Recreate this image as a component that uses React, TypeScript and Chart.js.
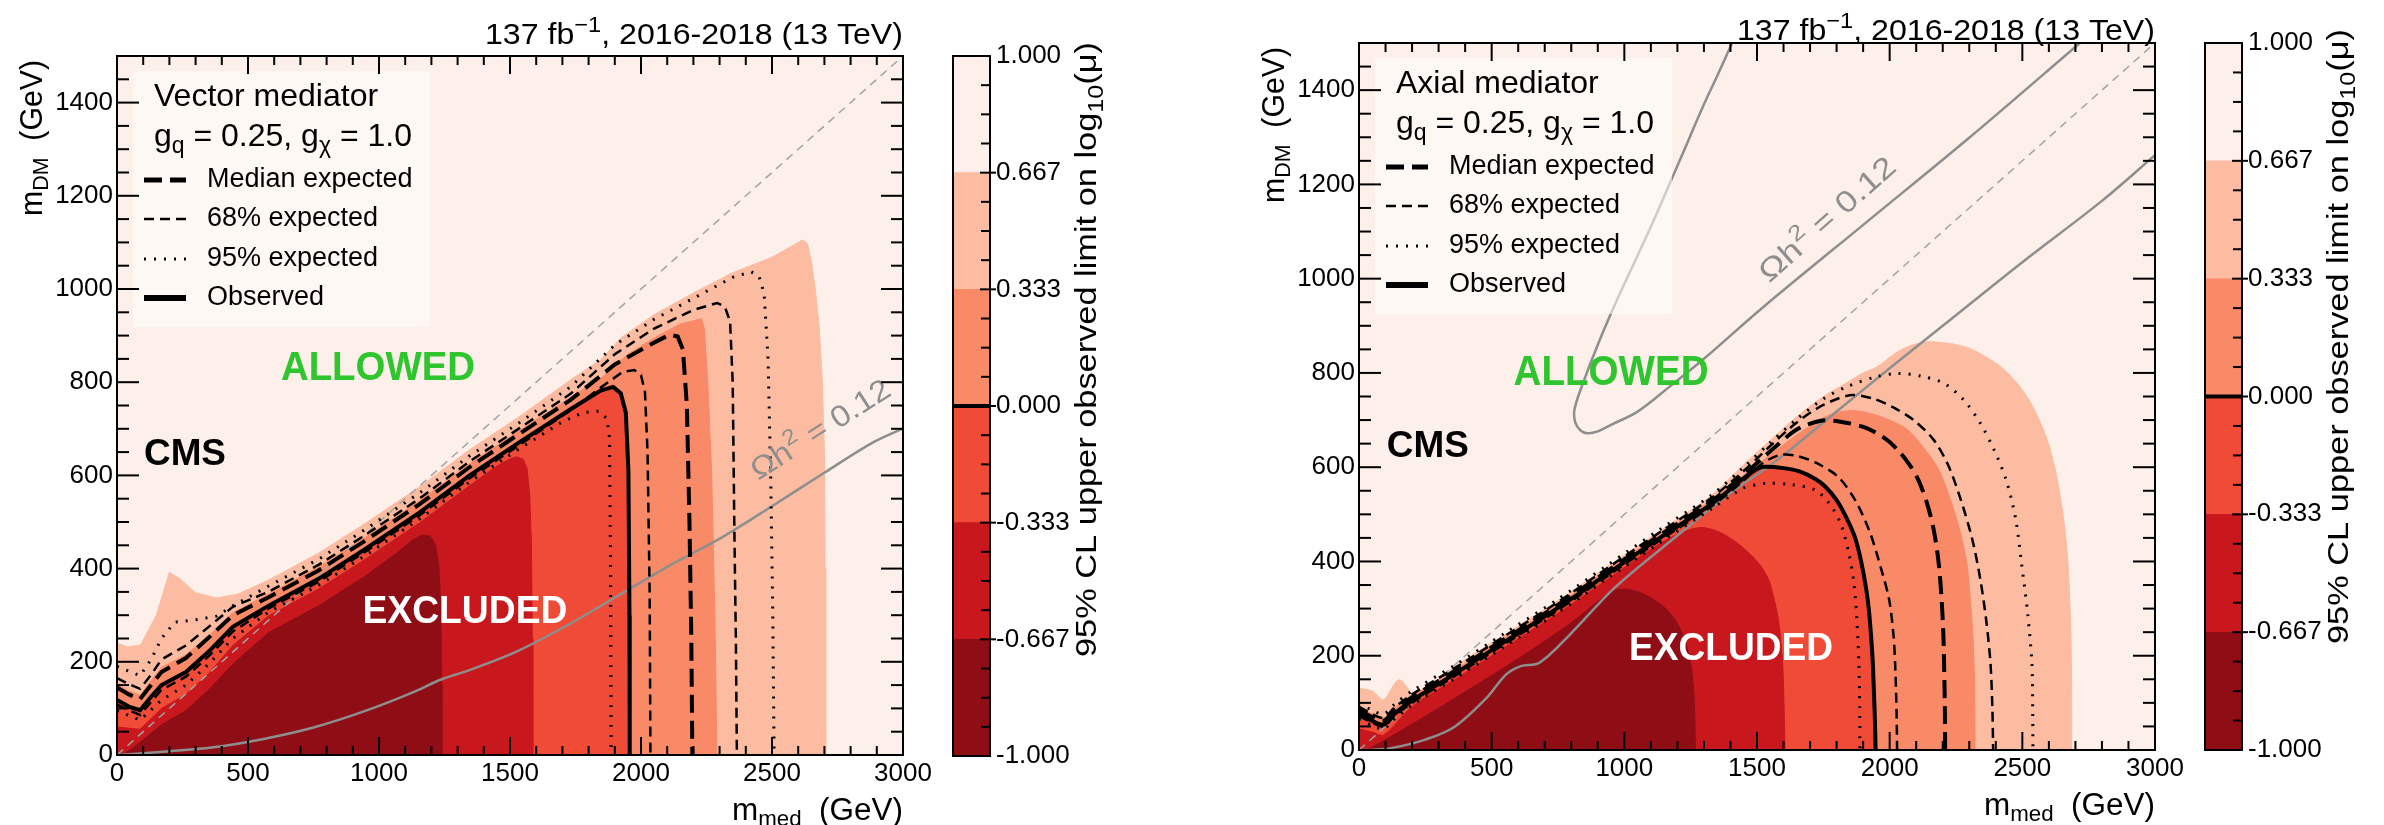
import React, { useEffect, useRef } from 'react';
import { Chart, registerables } from 'chart.js';

Chart.register(...registerables);

type P = [number, number];
type Part = { t: string; s?: 'sub' | 'sup' };

const FONT = '"Liberation Sans", Arial, Helvetica, sans-serif';
const NARROW = '"Liberation Sans Narrow", "Liberation Sans", Arial, sans-serif';
const GREY = '#8e8e8e';

// ---------- axes / colour scale ----------
const X_TICKS = [0, 500, 1000, 1500, 2000, 2500, 3000];
const Y_TICKS = [0, 200, 400, 600, 800, 1000, 1200, 1400];
const LEVELS = [-1, -0.667, -0.333, 0, 0.333, 0.667, 1];
const LEVEL_LABELS = ['-1.000', '-0.667', '-0.333', '0.000', '0.333', '0.667', '1.000'];
const LEVEL_COLORS = ['#8f0e15', '#c9171e', '#ef4b36', '#f98a68', '#fcbca2', '#fdefe9'];
const DIAGONAL: P[] = [[0, 0], [3000, 1500]];

// ---------- Vector mediator (left) ----------
const VEC_FILL_033: P[] = [[0,240],[40,232],[90,236],[150,300],[200,392],[240,378],[300,348],[380,337],[460,345],[577,375],[769,433],[942,495],[1154,575],[1346,655],[1538,727],[1731,805],[1850,850],[1923,895],[2050,945],[2212,995],[2350,1035],[2500,1068],[2600,1100],[2615,1105],[2635,1098],[2650,1060],[2665,1000],[2680,920],[2692,800],[2700,650],[2703,400],[2705,0]];
const VEC_FILL_000: P[] = [[0,150],[45,138],[88,128],[130,160],[170,188],[263,215],[350,255],[442,305],[577,345],[769,403],[942,465],[1154,545],[1346,625],[1538,697],[1731,767],[1850,810],[1950,860],[2050,895],[2150,925],[2231,936],[2242,915],[2255,800],[2270,600],[2282,300],[2290,0]];
const VEC_OBS: P[] = [[0,118],[45,104],[88,96],[130,125],[170,150],[263,178],[350,222],[442,275],[577,320],[769,378],[942,440],[1154,520],[1346,600],[1538,672],[1731,742],[1846,782],[1894,790],[1923,776],[1942,735],[1952,610],[1956,300],[1957,0]];
const VEC_FILL_M033: P[] = [[0,60],[88,55],[170,100],[263,130],[350,175],[442,235],[577,298],[769,356],[942,418],[1154,498],[1346,578],[1450,620],[1500,635],[1525,640],[1550,635],[1565,615],[1575,560],[1582,450],[1585,250],[1587,0]];
const VEC_FILL_M067: P[] = [[20,0],[60,15],[170,65],[263,95],[350,140],[442,195],[577,262],[769,320],[942,382],[1060,430],[1130,462],[1165,472],[1195,470],[1215,452],[1228,410],[1236,320],[1239,150],[1240,0]];
const VEC_EXP_MED: P[] = [[0,145],[45,130],[88,120],[130,150],[170,178],[263,208],[350,252],[442,300],[577,338],[769,396],[942,458],[1154,538],[1346,618],[1538,690],[1731,762],[1900,838],[2050,885],[2110,902],[2140,898],[2160,870],[2175,750],[2185,500],[2192,250],[2196,0]];
const VEC_EXP_68_DN: P[] = [[0,108],[45,96],[88,86],[130,114],[170,140],[263,168],[350,212],[442,265],[577,314],[769,372],[942,434],[1154,514],[1346,594],[1538,666],[1731,740],[1850,790],[1930,822],[1975,826],[2000,815],[2015,780],[2025,650],[2033,350],[2036,0]];
const VEC_EXP_68_UP: P[] = [[0,165],[45,152],[88,142],[130,172],[170,205],[263,235],[350,275],[442,318],[577,350],[769,408],[942,470],[1154,550],[1346,630],[1538,702],[1731,775],[1900,860],[2050,915],[2200,955],[2290,970],[2320,962],[2340,930],[2350,800],[2356,500],[2362,250],[2366,0]];
const VEC_EXP_95_DN: P[] = [[0,95],[88,75],[170,118],[263,150],[350,195],[442,250],[577,306],[769,364],[942,426],[1154,506],[1346,586],[1538,658],[1700,715],[1780,735],[1840,738],[1870,722],[1880,680],[1884,400],[1886,0]];
const VEC_EXP_95_UP: P[] = [[0,190],[45,180],[88,170],[130,205],[170,250],[220,285],[300,290],[380,298],[442,320],[577,362],[769,420],[942,482],[1154,562],[1346,642],[1538,714],[1731,790],[1900,880],[2050,935],[2200,980],[2350,1025],[2420,1037],[2450,1028],[2470,990],[2485,850],[2495,600],[2503,300],[2508,0]];
const VEC_RELIC: P[] = [[0,0],[88,3],[200,8],[360,16],[555,34],[750,59],[945,94],[1140,137],[1237,162],[1334,180],[1529,223],[1724,280],[1919,344],[2114,408],[2309,467],[2503,535],[2698,605],[2893,673],[3000,701]];

// ---------- Axial mediator (right) ----------
const AX_FILL_033: P[] = [[0,131],[50,125],[93,107],[151,149],[219,114],[356,175],[550,245],[745,315],[939,390],[1134,465],[1329,540],[1446,603],[1550,657],[1650,707],[1750,750],[1835,778],[1900,800],[1950,812],[2030,845],[2090,860],[2147,866],[2230,862],[2302,852],[2360,835],[2419,813],[2470,785],[2517,750],[2560,705],[2594,658],[2622,600],[2643,538],[2660,470],[2672,396],[2680,300],[2684,219],[2686,100],[2686,0]];
const AX_FILL_000: P[] = [[0,92],[50,76],[93,68],[130,88],[200,115],[356,168],[550,238],[745,308],[939,383],[1134,458],[1329,530],[1446,582],[1523,615],[1600,648],[1679,680],[1777,712],[1850,720],[1913,716],[2000,700],[2069,679],[2130,640],[2186,594],[2230,530],[2264,467],[2290,400],[2303,326],[2313,250],[2318,184],[2321,90],[2322,0]];
const AX_OBS: P[] = [[0,78],[50,62],[93,54],[130,75],[200,105],[356,160],[550,230],[745,300],[939,375],[1134,450],[1329,522],[1446,575],[1500,596],[1528,601],[1600,598],[1660,591],[1720,575],[1757,559],[1800,530],[1835,495],[1870,450],[1894,396],[1912,340],[1923,290],[1935,200],[1939,149],[1944,70],[1947,0]];
const AX_FILL_M033: P[] = [[0,45],[50,38],[93,32],[200,92],[356,148],[550,218],[745,288],[939,363],[1134,438],[1220,462],[1290,472],[1360,462],[1426,439],[1475,415],[1515,390],[1545,360],[1560,330],[1578,285],[1587,248],[1597,180],[1601,114],[1604,50],[1605,0]];
const AX_FILL_M067: P[] = [[30,0],[100,22],[200,55],[362,110],[603,195],[800,270],[900,315],[965,340],[1050,336],[1131,312],[1190,278],[1228,233],[1250,185],[1262,120],[1266,60],[1268,0]];
const AX_EXP_MED: P[] = [[0,85],[50,70],[93,62],[130,82],[200,112],[356,166],[550,236],[745,306],[939,381],[1134,456],[1329,528],[1446,582],[1563,640],[1650,680],[1745,699],[1830,695],[1913,683],[1980,662],[2030,637],[2075,605],[2108,573],[2140,525],[2166,467],[2184,400],[2195,326],[2202,250],[2205,184],[2208,90],[2209,0]];
const AX_EXP_68_DN: P[] = [[0,72],[50,58],[93,50],[130,70],[200,100],[356,155],[550,225],[745,295],[939,370],[1134,445],[1329,517],[1446,570],[1520,608],[1587,626],[1650,624],[1720,610],[1805,580],[1870,530],[1926,461],[1970,380],[1998,319],[2015,240],[2021,177],[2026,80],[2028,0]];
const AX_EXP_68_UP: P[] = [[0,92],[50,76],[93,68],[130,88],[200,118],[356,172],[550,242],[745,312],[939,387],[1134,462],[1329,535],[1446,590],[1550,645],[1650,695],[1750,732],[1855,753],[1940,745],[2010,728],[2090,700],[2166,658],[2220,605],[2264,538],[2310,450],[2342,361],[2365,270],[2380,184],[2387,90],[2390,0]];
const AX_EXP_95_DN: P[] = [[0,65],[50,52],[93,45],[130,64],[200,95],[356,150],[550,220],[745,290],[939,365],[1134,440],[1329,512],[1446,555],[1500,563],[1543,566],[1630,563],[1718,552],[1770,525],[1815,481],[1845,420],[1864,361],[1876,280],[1884,184],[1887,90],[1888,0]];
const AX_EXP_95_UP: P[] = [[0,100],[50,84],[93,76],[130,95],[200,125],[356,178],[550,248],[745,318],[939,393],[1134,468],[1329,541],[1446,598],[1550,652],[1650,702],[1750,745],[1835,770],[1950,792],[2030,799],[2120,793],[2205,778],[2280,742],[2342,693],[2395,635],[2439,573],[2475,490],[2497,396],[2520,290],[2536,184],[2539,90],[2540,0]];
const AX_RELIC_LOW: P[] = [[40,0],[121,4],[250,22],[362,50],[480,110],[554,160],[610,178],[680,185],[795,245],[965,345],[1200,455],[1400,545],[1564,610],[1800,718],[2000,810],[2200,900],[2500,1035],[2800,1165],[3000,1262]];
const AX_RELIC_U: P[] = [[1406,1500],[1350,1430],[1300,1370],[1212,1255],[1100,1110],[979,963],[900,860],[840,772],[812,722],[815,695],[835,678],[862,672],[900,676],[950,690],[1050,718],[1173,772],[1300,830],[1524,940],[1913,1120],[2302,1300],[2717,1500]];

interface PanelData {
  fill033: P[]; fill000: P[]; obs: P[]; fillM033: P[]; fillM067: P[];
  med: P[]; dn68: P[]; up68: P[]; dn95: P[]; up95: P[]; relic: P[][];
}

interface PanelSpec {
  data: PanelData;
  smooth: number;
  left: number; width: number; padTop: number; xAxisH: number;
  header: string; titleY: number;
  allowed: [number, number, number, number];
  excluded: [number, number, number, number];
  cms: [number, number];
  relicLabel: [number, number, number, number];
}

const VEC_SPEC: PanelSpec = {
  data: { fill033: VEC_FILL_033, fill000: VEC_FILL_000, obs: VEC_OBS, fillM033: VEC_FILL_M033, fillM067: VEC_FILL_M067,
    med: VEC_EXP_MED, dn68: VEC_EXP_68_DN, up68: VEC_EXP_68_UP, dn95: VEC_EXP_95_DN, up95: VEC_EXP_95_UP, relic: [VEC_RELIC] },
  smooth: 0,
  left: 0, width: 945, padTop: 56, xAxisH: 70,
  header: 'Vector mediator', titleY: 36,
  allowed: [996, 829, 194, 40], excluded: [1328, 306, 205, 38], cms: [103, 643],
  relicLabel: [2687, 696, -32.7, 160],
};

const AX_SPEC: PanelSpec = {
  data: { fill033: AX_FILL_033, fill000: AX_FILL_000, obs: AX_OBS, fillM033: AX_FILL_M033, fillM067: AX_FILL_M067,
    med: AX_EXP_MED, dn68: AX_EXP_68_DN, up68: AX_EXP_68_UP, dn95: AX_EXP_95_DN, up95: AX_EXP_95_UP, relic: [AX_RELIC_LOW, AX_RELIC_U] },
  smooth: 0.3,
  left: 1242, width: 955, padTop: 43, xAxisH: 75,
  header: 'Axial mediator', titleY: 32,
  allowed: [950, 800, 195, 42], excluded: [1402, 214, 204, 39], cms: [105, 643],
  relicLabel: [1768, 1124, -41.5, 172],
};

// ---------- helpers ----------
function richDraw(ctx: CanvasRenderingContext2D, parts: Part[], x: number, y: number, size: number,
  align: 'left' | 'right' | 'center', color: string,
  opts: { width?: number; weight?: string; family?: string; rot?: number } = {}) {
  const fam = opts.family || FONT;
  const wt = opts.weight || 'normal';
  const fontOf = (p: Part) => `${wt} ${p.s ? Math.round(size * 0.72) : size}px ${fam}`;
  ctx.save();
  let w = 0;
  for (const p of parts) { ctx.font = fontOf(p); w += ctx.measureText(p.t).width; }
  const sx = opts.width ? opts.width / w : 1;
  ctx.translate(x, y);
  if (opts.rot) ctx.rotate(opts.rot);
  ctx.scale(sx, 1);
  let cx = align === 'left' ? 0 : align === 'right' ? -w : -w / 2;
  ctx.fillStyle = color;
  ctx.textAlign = 'left';
  ctx.textBaseline = 'middle';
  for (const p of parts) {
    ctx.font = fontOf(p);
    const dy = p.s === 'sub' ? size * 0.3 : p.s === 'sup' ? -size * 0.35 : 0;
    ctx.fillText(p.t, cx, dy);
    cx += ctx.measureText(p.t).width;
  }
  ctx.restore();
}

function seg(ctx: CanvasRenderingContext2D, x1: number, y1: number, x2: number, y2: number) {
  ctx.beginPath(); ctx.moveTo(x1, y1); ctx.lineTo(x2, y2); ctx.stroke();
}

const pts = (a: P[]) => a.map(([x, y]) => ({ x, y }));

function fillDs(d: P[], color: string, order: number, tension: number) {
  return { data: pts(d), backgroundColor: color, borderColor: color, borderWidth: 1, fill: 'origin', pointRadius: 0, tension, order };
}
function lineDs(d: P[], color: string, width: number, dash: number[], order: number, tension: number, mono = false) {
  return { data: pts(d), borderColor: color, borderWidth: width, borderDash: dash, fill: false, pointRadius: 0, tension, order,
    cubicInterpolationMode: mono ? 'monotone' : 'default' };
}

const DASH_MED = [18, 8];
const DASH_68 = [10, 6];
const DASH_95 = [2, 8];

function buildDatasets(d: PanelData, t: number) {
  return [
    fillDs(d.fill033, LEVEL_COLORS[4], 30, t),
    fillDs(d.fill000, LEVEL_COLORS[3], 29, t),
    fillDs(d.obs, LEVEL_COLORS[2], 28, t),
    fillDs(d.fillM033, LEVEL_COLORS[1], 27, t),
    fillDs(d.fillM067, LEVEL_COLORS[0], 26, t),
    lineDs(DIAGONAL, '#a3a3a3', 1.5, [8, 6], 20, 0),
    ...d.relic.map((r, i) => lineDs(r, GREY, 2.5, [], 18 - i, 0.35, d.relic.length === 1)),
    lineDs(d.dn95, '#000', 3, DASH_95, 9, t),
    lineDs(d.up95, '#000', 3, DASH_95, 8, t),
    lineDs(d.dn68, '#000', 2.5, DASH_68, 7, t),
    lineDs(d.up68, '#000', 2.5, DASH_68, 6, t),
    lineDs(d.med, '#000', 4, DASH_MED, 3, t),
    lineDs(d.obs, '#000', 4, [], 1, t),
  ];
}

function makePlotPlugin(spec: PanelSpec) {
  return {
    id: 'cmsPlot',
    beforeDatasetsDraw(chart: any) {
      const { ctx, chartArea: a } = chart;
      ctx.save();
      ctx.fillStyle = LEVEL_COLORS[5];
      ctx.fillRect(a.left, a.top, a.right - a.left, a.bottom - a.top);
      ctx.restore();
    },
    afterDatasetsDraw(chart: any) {
      const { ctx, chartArea: a, scales } = chart;
      const xs = scales.x, ys = scales.y;
      const L = a.left, T = a.top;
      // legend box
      ctx.save();
      ctx.fillStyle = 'rgba(255,255,255,0.55)';
      ctx.fillRect(L + 16, T + 15, 297, 256);
      ctx.restore();
      richDraw(ctx, [{ t: spec.header }], L + 37, T + 41, 32, 'left', '#000');
      richDraw(ctx, [{ t: 'g' }, { t: 'q', s: 'sub' }, { t: ' = 0.25, g' }, { t: 'χ', s: 'sub' }, { t: ' = 1.0' }], L + 37, T + 81, 32, 'left', '#000');
      const rows: [string, number, number[]][] = [
        ['Median expected', 5, DASH_MED],
        ['68% expected', 2.5, DASH_68],
        ['95% expected', 3, DASH_95],
        ['Observed', 6, []],
      ];
      const rowY = [124, 163, 203, 242];
      rows.forEach(([label, w, dash], i) => {
        const yy = T + rowY[i];
        ctx.save();
        ctx.strokeStyle = '#000'; ctx.lineWidth = w; ctx.setLineDash(dash);
        seg(ctx, L + 27, yy, L + 69, yy);
        ctx.restore();
        richDraw(ctx, [{ t: label }], L + 90, yy, 27, 'left', '#000');
      });
      // CMS
      richDraw(ctx, [{ t: 'CMS' }], xs.getPixelForValue(spec.cms[0]), ys.getPixelForValue(spec.cms[1]), 36, 'left', '#000', { weight: 'bold', width: 82 });
      // relic label
      const [rx, ry, ang, rw] = spec.relicLabel;
      richDraw(ctx, [{ t: 'Ωh' }, { t: '2', s: 'sup' }, { t: ' = 0.12' }], xs.getPixelForValue(rx), ys.getPixelForValue(ry), 30, 'center', GREY, { width: rw, rot: ang * Math.PI / 180 });
      // ALLOWED / EXCLUDED
      const [axv, ayv, aw, asz] = spec.allowed;
      richDraw(ctx, [{ t: 'ALLOWED' }], xs.getPixelForValue(axv), ys.getPixelForValue(ayv), asz, 'center', '#2fc52f', { weight: 'bold', family: NARROW, width: aw });
      const [exv, eyv, ew, esz] = spec.excluded;
      richDraw(ctx, [{ t: 'EXCLUDED' }], xs.getPixelForValue(exv), ys.getPixelForValue(eyv), esz, 'center', '#ffffff', { weight: 'bold', family: NARROW, width: ew });
    },
    afterDraw(chart: any) {
      const { ctx, chartArea: a, scales } = chart;
      const xs = scales.x, ys = scales.y;
      ctx.save();
      ctx.strokeStyle = '#000';
      ctx.lineWidth = 2;
      for (let v = 100; v < 3000; v += 100) {
        const px = xs.getPixelForValue(v);
        const len = v % 500 === 0 ? 18 : 9;
        seg(ctx, px, a.bottom, px, a.bottom - len);
        seg(ctx, px, a.top, px, a.top + len);
      }
      for (let v = 50; v < 1500; v += 50) {
        const py = ys.getPixelForValue(v);
        const len = v % 200 === 0 ? 22 : 12;
        seg(ctx, a.left, py, a.left + len, py);
        seg(ctx, a.right, py, a.right - len, py);
      }
      ctx.strokeRect(a.left, a.top, a.right - a.left, a.bottom - a.top);
      ctx.restore();
      // title
      richDraw(ctx, [{ t: '137 fb' }, { t: '−1', s: 'sup' }, { t: ', 2016-2018 (13 TeV)' }], a.right, spec.titleY, 30, 'right', '#000', { width: 418 });
      // axis titles
      richDraw(ctx, [{ t: 'm' }, { t: 'med', s: 'sub' }, { t: '  (GeV)' }], a.right, a.bottom + 56, 31, 'right', '#000', { width: 171 });
      richDraw(ctx, [{ t: 'm' }, { t: 'DM', s: 'sub' }, { t: '  (GeV)' }], a.left - 84, a.top + 4, 31, 'right', '#000', { width: 156, rot: -Math.PI / 2 });
    },
  };
}

function PlotPanel({ spec }: { spec: PanelSpec }) {
  const ref = useRef<HTMLCanvasElement>(null);
  useEffect(() => {
    const chart = new Chart(ref.current as HTMLCanvasElement, {
      type: 'line',
      data: { datasets: buildDatasets(spec.data, spec.smooth) as any },
      options: {
        animation: false,
        responsive: false,
        devicePixelRatio: 1,
        layout: { padding: { left: 0, right: 42, top: spec.padTop, bottom: 0 } },
        plugins: { legend: { display: false }, tooltip: { enabled: false } },
        scales: {
          x: {
            type: 'linear', min: 0, max: 3000,
            grid: { display: false, drawTicks: false }, border: { display: false },
            ticks: { font: { family: FONT, size: 26 }, color: '#000', padding: 3, maxRotation: 0, autoSkip: false, callback: (v: any) => String(v) },
            afterBuildTicks: (s: any) => { s.ticks = X_TICKS.map((v) => ({ value: v })); },
            afterFit: (s: any) => { s.height = spec.xAxisH; },
          },
          y: {
            type: 'linear', min: 0, max: 1500,
            grid: { display: false, drawTicks: false }, border: { display: false },
            ticks: { font: { family: FONT, size: 26 }, color: '#000', padding: 4, autoSkip: false, callback: (v: any) => String(v) },
            afterBuildTicks: (s: any) => { s.ticks = Y_TICKS.map((v) => ({ value: v })); },
            afterFit: (s: any) => { s.width = 117; },
          },
        },
      } as any,
      plugins: [makePlotPlugin(spec)],
    });
    return () => chart.destroy();
  }, [spec]);
  return (
    <canvas ref={ref} width={spec.width} height={825}
      style={{ position: 'absolute', left: spec.left, top: 0, width: spec.width, height: 825 }} />
  );
}

function makeBarPlugin(titleEndY: number) {
  return {
    id: 'cbar',
    afterDraw(chart: any) {
      const { ctx, chartArea: a, scales } = chart;
      const ys = scales.y;
      ctx.save();
      ctx.strokeStyle = '#000';
      ctx.lineWidth = 2;
      for (let i = 1; i < 24; i++) {
        const v = -1 + i / 12;
        const py = ys.getPixelForValue(v);
        if (i % 4 === 0) seg(ctx, a.right - 10, py, a.right + 6, py);
        else seg(ctx, a.right - 9, py, a.right, py);
      }
      ctx.lineWidth = 4;
      const z = ys.getPixelForValue(0);
      seg(ctx, a.left, z, a.right, z);
      ctx.lineWidth = 2;
      ctx.strokeRect(a.left, a.top, a.right - a.left, a.bottom - a.top);
      ctx.restore();
      richDraw(ctx, [{ t: '95% CL upper observed limit on log' }, { t: '10', s: 'sub' }, { t: '(μ)' }],
        a.right + 98, titleEndY, 30, 'right', '#000', { width: 615, rot: -Math.PI / 2 });
    },
  };
}

function ColorBar({ left, width, padTop, padBottom, axisW, titleEndY }:
  { left: number; width: number; padTop: number; padBottom: number; axisW: number; titleEndY: number }) {
  const ref = useRef<HTMLCanvasElement>(null);
  useEffect(() => {
    const chart = new Chart(ref.current as HTMLCanvasElement, {
      type: 'bar',
      data: {
        labels: [''],
        datasets: LEVEL_COLORS.map((c, i) => ({
          data: [[LEVELS[i], LEVELS[i + 1]]], backgroundColor: c, borderWidth: 0,
          barPercentage: 1, categoryPercentage: 1, grouped: false,
        })) as any,
      },
      options: {
        animation: false,
        responsive: false,
        devicePixelRatio: 1,
        layout: { padding: { left: 13, right: 0, top: padTop, bottom: padBottom } },
        plugins: { legend: { display: false }, tooltip: { enabled: false } },
        scales: {
          x: { display: false },
          y: {
            position: 'right', min: -1, max: 1,
            grid: { display: false, drawTicks: false }, border: { display: false },
            ticks: { font: { family: FONT, size: 26 }, color: '#000', padding: 6, autoSkip: false,
              callback: (_v: any, i: number) => LEVEL_LABELS[i] },
            afterBuildTicks: (s: any) => { s.ticks = LEVELS.map((v) => ({ value: v })); },
            afterFit: (s: any) => { s.width = axisW; },
          },
        },
      } as any,
      plugins: [makeBarPlugin(titleEndY)],
    });
    return () => chart.destroy();
  }, []);
  return (
    <canvas ref={ref} width={width} height={825}
      style={{ position: 'absolute', left, top: 0, width, height: 825 }} />
  );
}

export default function App() {
  useEffect(() => {
    document.body.style.margin = '0';
    document.body.style.overflow = 'hidden';
  }, []);
  return (
    <div style={{ position: 'absolute', left: 0, top: 0, width: 2384, height: 825, background: '#ffffff', overflow: 'hidden' }}>
      <PlotPanel spec={VEC_SPEC} />
      <ColorBar left={940} width={250} padTop={56} padBottom={69} axisW={200} titleEndY={42} />
      <PlotPanel spec={AX_SPEC} />
      <ColorBar left={2192} width={192} padTop={43} padBottom={75} axisW={142} titleEndY={29} />
    </div>
  );
}
